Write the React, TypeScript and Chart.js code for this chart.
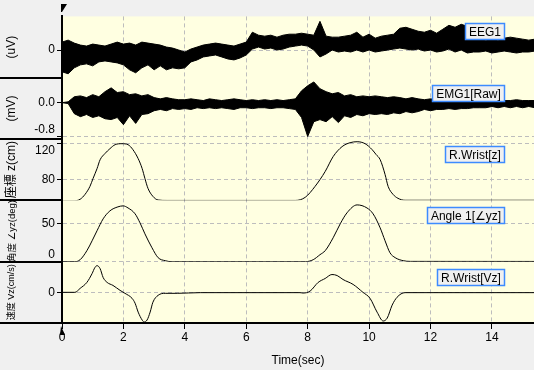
import React, { useEffect, useRef } from 'react';
import { Chart, registerables } from 'chart.js';

Chart.register(...registerables);

// ---- time axis ----
const xTickValues = [0, 2, 4, 6, 8, 10, 12, 14];
const xMin = 0;
const xMax = 15.37;
const cursorTime = 0;

// ---- EEG1 / EMG1 min-max envelopes, one pair per 0.2 s bin ----
const binStep = 0.2;
const eegHigh = [16, 20, 14, 10, 8, 12, 10, 8, 12, 16, 12, 14, 10, 16, 14, 12, 10, 6, 4, 0, -4, 2, 6, 10, 12, 14, 12, 10, 8, 12, 16, 36, 30, 28, 30, 26, 30, 32, 32, 34, 32, 30, 58, 28, 26, 26, 28, 30, 36, 26, 32, 24, 28, 30, 32, 44, 46, 42, 38, 36, 40, 34, 42, 50, 46, 52, 48, 30, 22, 20, 22, 20, 24, 26, 24, 22, 20, 22];
const eegLow = [-44, -48, -36, -30, -28, -32, -24, -22, -24, -26, -30, -40, -46, -36, -30, -40, -32, -40, -36, -38, -36, -24, -20, -14, -12, -10, -14, -18, -20, -16, -10, 2, 6, 2, 4, 0, 2, 6, 8, 10, 8, 0, -14, -8, 0, -4, -2, -4, 0, -4, 0, -4, -2, 0, 2, 4, 2, 0, 2, -2, 0, -4, -2, 2, -4, 0, -6, -4, -4, -2, -6, -4, -2, -4, -6, -4, -4, -2];
const emgHigh = [0, 0.02, 0.14, 0.16, 0.12, 0.19, 0.14, 0.26, 0.35, 0.24, 0.26, 0.19, 0.21, 0.16, 0.19, 0.12, 0.09, 0.12, 0.09, 0.07, 0.07, 0.09, 0.07, 0.05, 0.09, 0.07, 0.05, 0.07, 0.09, 0.07, 0.05, 0.07, 0.05, 0.07, 0.05, 0.07, 0.05, 0.07, 0.09, 0.28, 0.40, 0.49, 0.33, 0.26, 0.21, 0.24, 0.16, 0.19, 0.14, 0.16, 0.14, 0.16, 0.14, 0.12, 0.14, 0.12, 0.09, 0.12, 0.09, 0.07, 0.09, 0.07, 0.09, 0.07, 0.07, 0.09, 0.07, 0.05, 0.05, 0.07, 0.05, 0.05, 0.05, 0.05, 0.07, 0.05, 0.05, 0.05];
const emgLow = [0, -0.02, -0.26, -0.33, -0.28, -0.35, -0.31, -0.38, -0.40, -0.35, -0.52, -0.31, -0.49, -0.28, -0.26, -0.19, -0.16, -0.19, -0.14, -0.16, -0.14, -0.16, -0.12, -0.14, -0.12, -0.14, -0.12, -0.14, -0.16, -0.12, -0.12, -0.14, -0.12, -0.12, -0.14, -0.12, -0.12, -0.14, -0.16, -0.35, -0.80, -0.45, -0.40, -0.45, -0.33, -0.47, -0.31, -0.35, -0.28, -0.31, -0.26, -0.28, -0.26, -0.28, -0.24, -0.26, -0.21, -0.24, -0.21, -0.16, -0.19, -0.16, -0.16, -0.14, -0.16, -0.14, -0.14, -0.12, -0.12, -0.12, -0.09, -0.12, -0.09, -0.12, -0.09, -0.12, -0.09, -0.12];

// ---- R.Wrist[z] (cm) ----
const wristZTime = [0, 0.36, 0.59, 0.75, 0.91, 1.01, 1.14, 1.24, 1.4, 1.56, 1.73, 1.95, 2.15, 2.31, 2.48, 2.61, 2.7, 2.8, 2.96, 3.13, 3.42, 7.6, 7.92, 8.24, 8.57, 8.83, 9.12, 9.38, 9.61, 9.87, 10.1, 10.23, 10.36, 10.52, 10.62, 10.78, 10.94, 11.17, 15.4];
const wristZ = [56, 56, 57.8, 63.3, 72.2, 81, 92, 102, 109, 114.4, 118.9, 120, 118.9, 113.3, 103.3, 92.2, 81.1, 70, 61.1, 57, 56.5, 56.5, 60, 72.2, 88.9, 105.6, 116.7, 121.1, 122.2, 120, 113.3, 107.8, 102.2, 85.6, 72.2, 63.3, 58.9, 56.7, 56.7];

// ---- Angle 1[∠yz] (deg) ----
const angleTime = [0, 0.42, 0.59, 0.81, 0.98, 1.14, 1.34, 1.56, 1.82, 1.99, 2.15, 2.38, 2.54, 2.7, 2.93, 3.13, 3.36, 3.58, 7.92, 8.18, 8.4, 8.57, 8.83, 9.06, 9.28, 9.61, 9.93, 10.13, 10.36, 10.52, 10.68, 10.85, 11.11, 11.34, 15.4];
const angle = [0, 0, 2.6, 14.5, 27.6, 40.8, 56.6, 67.1, 72.4, 73.7, 71, 63.2, 51.3, 36.8, 18.4, 5.3, 1.3, 0, 0, 2.6, 9.2, 14.5, 31.6, 50, 64.5, 75, 71, 63.2, 44.7, 27.6, 11.8, 5.3, 1.3, 0.4, 0.3];

// ---- R.Wrist[Vz] (cm/s) ----
const wristVzTime = [0, 0.42, 0.59, 0.81, 0.98, 1.07, 1.14, 1.24, 1.34, 1.47, 1.66, 1.89, 2.05, 2.28, 2.38, 2.48, 2.61, 2.67, 2.77, 2.87, 2.96, 3.13, 3.36, 3.75, 4.5, 7.75, 7.85, 8.08, 8.34, 8.57, 8.79, 8.96, 9.15, 9.48, 9.8, 10.03, 10.26, 10.46, 10.59, 10.75, 10.91, 11.17, 15.4];
const wristVz = [0, 0, 12.9, 32.3, 61.3, 80.6, 87.1, 77.4, 48.4, 32.3, 22.6, 6.5, -3.2, -19.4, -35.5, -64.5, -90.3, -96.8, -90.3, -64.5, -32.3, -9.7, -3.2, -3.2, -1, -1, -2.3, 4.2, 32.3, 45.2, 58.1, 54.8, 41.9, 25.8, 0, -19.4, -64.5, -93.5, -83.9, -41.9, -16.1, -1, -1];

// ---- labels / ticks ----
const seriesLabels = ['EEG1', 'EMG1[Raw]', 'R.Wrist[z]', 'Angle 1[∠yz]', 'R.Wrist[Vz]'];
const axisTitles = ['(uV)', '(mV)', '座標 z(cm)', '角度 ∠yz(deg)', '速度 Vz(cm/s)'];
const eegTicks = [0];
const eegTickLabels = ['0'];
const emgTicks = [0, -0.8];
const emgTickLabels = ['0.0', '-0.8'];
const zTicks = [80, 120];
const zTickLabels = ['80', '120'];
const angleTicks = [0, 50];
const angleTickLabels = ['0', '50'];
const vzTicks = [0];
const vzTickLabels = ['0'];
const xTitle = 'Time(sec)';

const axisIds = ['yEEG', 'yEMG', 'yZ', 'yAngle', 'yVz'];
const FONT_FAMILY = '"Liberation Sans Narrow", "Liberation Sans", "DejaVu Sans", "Noto Sans CJK JP", sans-serif';

function binned(values: number[]) {
  return values.map((y, i) => ({ x: i * binStep, y }));
}

function pairs(t: number[], v: number[]) {
  return t.map((x, i) => ({ x, y: v[i] }));
}

function yAxis(min: number, max: number, ticks: number[], labels: string[], title: string, titleSize: number, weight: number) {
  return {
    type: 'linear',
    position: 'left',
    stack: 'panels',
    stackWeight: 1,
    weight,
    min,
    max,
    afterBuildTicks: (s: any) => {
      s.ticks = ticks.map((v) => ({ value: v }));
    },
    afterFit: (s: any) => {
      s.width = 62;
    },
    grid: {
      color: '#bdbdbd',
      lineWidth: 1,
      tickLength: 5,
      tickColor: '#000',
      tickWidth: 1,
      tickBorderDash: [],
    },
    border: { color: '#000', width: 2, dash: [4, 3] },
    ticks: {
      color: '#000',
      padding: 2,
      font: { family: FONT_FAMILY, size: 12 },
      callback: (value: number) => {
        const i = ticks.indexOf(value);
        const text = i >= 0 ? labels[i] : '';
        const frac = (value - min) / (max - min);
        if (frac < 0.1) return [text, ''];
        if (frac > 0.88) return ['', text];
        return text;
      },
    },
    title: {
      display: true,
      text: title,
      color: '#000',
      font: { family: FONT_FAMILY, size: titleSize },
      padding: { top: 12 - titleSize * 0.6, bottom: 0 },
    },
  };
}

const backgroundPlugin = {
  id: 'bg',
  beforeDraw(chart: any) {
    const { ctx, chartArea } = chart;
    ctx.save();
    ctx.fillStyle = '#f0f0f0';
    ctx.fillRect(0, 0, chart.width, chart.height);
    ctx.fillStyle = '#ffffe1';
    ctx.fillRect(chartArea.left, chartArea.top, chartArea.right - chartArea.left, chartArea.bottom - chartArea.top);
    ctx.restore();
  },
};

const decorPlugin = {
  id: 'decor',
  afterDraw(chart: any) {
    const { ctx, chartArea } = chart;
    ctx.save();
    // panel separators in the label column
    ctx.strokeStyle = '#000';
    ctx.lineWidth = 2;
    axisIds.forEach((id) => {
      const s = chart.scales[id];
      const y = Math.round(s.bottom);
      ctx.beginPath();
      ctx.moveTo(0, y);
      ctx.lineTo(s.right, y);
      ctx.stroke();
    });
    // panel name boxes
    ctx.font = `12px ${FONT_FAMILY}`;
    ctx.textBaseline = 'middle';
    ctx.textAlign = 'center';
    axisIds.forEach((id, k) => {
      const s = chart.scales[id];
      const label = seriesLabels[k];
      const w = Math.round(ctx.measureText(label).width + 8);
      const right = chartArea.right - 29;
      const top = Math.round(s.top + 7);
      const h = 17;
      ctx.fillStyle = '#f0f0f0';
      ctx.fillRect(right - w, top, w, h);
      ctx.strokeStyle = '#3d8bff';
      ctx.lineWidth = 1.5;
      ctx.strokeRect(right - w + 0.5, top + 0.5, w - 1, h - 1);
      ctx.fillStyle = '#000';
      ctx.fillText(label, right - w / 2, top + h / 2 + 1);
    });
    // time cursor markers
    const x0 = chart.scales.x.getPixelForValue(cursorTime);
    ctx.fillStyle = '#000';
    ctx.beginPath();
    ctx.moveTo(x0 - 1, 4);
    ctx.lineTo(x0 + 5, 4);
    ctx.lineTo(x0, 12);
    ctx.lineTo(x0 - 1, 12);
    ctx.closePath();
    ctx.fill();
    ctx.beginPath();
    ctx.moveTo(x0 - 1, chartArea.bottom + 3);
    ctx.lineTo(x0 + 3, chartArea.bottom + 12);
    ctx.lineTo(x0 - 2, chartArea.bottom + 12);
    ctx.closePath();
    ctx.fill();
    ctx.restore();
  },
};

export default function App() {
  const ref = useRef<HTMLCanvasElement>(null);

  useEffect(() => {
    document.body.style.margin = '0';
    document.body.style.background = '#f0f0f0';
    const lineBase = { borderColor: '#000', backgroundColor: '#000', pointRadius: 0, fill: false };
    const chart = new Chart(ref.current as HTMLCanvasElement, {
      type: 'line',
      data: {
        datasets: [
          { ...lineBase, label: seriesLabels[0], data: binned(eegHigh), yAxisID: 'yEEG', borderWidth: 1, tension: 0, fill: '+1' },
          { ...lineBase, label: seriesLabels[0] + ' (min)', data: binned(eegLow), yAxisID: 'yEEG', borderWidth: 1, tension: 0 },
          { ...lineBase, label: seriesLabels[1], data: binned(emgHigh), yAxisID: 'yEMG', borderWidth: 1, tension: 0, fill: '+1' },
          { ...lineBase, label: seriesLabels[1] + ' (min)', data: binned(emgLow), yAxisID: 'yEMG', borderWidth: 1, tension: 0 },
          { ...lineBase, label: seriesLabels[2], data: pairs(wristZTime, wristZ), yAxisID: 'yZ', borderWidth: 1, cubicInterpolationMode: 'monotone' },
          { ...lineBase, label: seriesLabels[3], data: pairs(angleTime, angle), yAxisID: 'yAngle', borderWidth: 1, cubicInterpolationMode: 'monotone' },
          { ...lineBase, label: seriesLabels[4], data: pairs(wristVzTime, wristVz), yAxisID: 'yVz', borderWidth: 1, cubicInterpolationMode: 'monotone' },
        ],
      } as any,
      options: {
        animation: false,
        responsive: false,
        maintainAspectRatio: false,
        devicePixelRatio: 1,
        events: [],
        layout: { padding: { top: 14, left: 0, right: 0, bottom: 0 } },
        plugins: { legend: { display: false }, tooltip: { enabled: false }, title: { display: false }, filler: { propagate: false } },
        scales: {
          x: {
            type: 'linear',
            position: 'bottom',
            min: xMin,
            max: xMax,
            afterBuildTicks: (s: any) => {
              s.ticks = xTickValues.map((v) => ({ value: v }));
            },
            afterFit: (s: any) => {
              s.height = 47;
            },
            grid: {
              color: '#bdbdbd',
              lineWidth: 1,
              tickLength: 6,
              tickColor: '#000',
              tickWidth: 1,
              tickBorderDash: [],
            },
            border: { color: '#000', width: 2, dash: [4, 3] },
            ticks: {
              color: '#000',
              padding: 1,
              maxRotation: 0,
              font: { family: FONT_FAMILY, size: 12 },
              callback: (v: number) => String(v),
            },
            title: {
              display: true,
              text: xTitle,
              color: '#000',
              font: { family: FONT_FAMILY, size: 12 },
              padding: { top: 0, bottom: 2 },
            },
          },
          yEEG: yAxis(-56, 68, eegTicks, eegTickLabels, axisTitles[0], 12, 5),
          yEMG: yAxis(-0.86, 0.59, emgTicks, emgTickLabels, axisTitles[1], 12, 4),
          yZ: yAxis(56.6, 125.2, zTicks, zTickLabels, axisTitles[2], 12, 3),
          yAngle: yAxis(0, 81, angleTicks, angleTickLabels, axisTitles[3], 9.5, 2),
          yVz: yAxis(-100, 100, vzTicks, vzTickLabels, axisTitles[4], 9, 1),
        } as any,
      },
      plugins: [backgroundPlugin, decorPlugin],
    } as any);
    return () => chart.destroy();
  }, []);

  return (
    <div style={{ width: 534, height: 370 }}>
      <canvas ref={ref} width={534} height={370} style={{ display: 'block' }} />
    </div>
  );
}
